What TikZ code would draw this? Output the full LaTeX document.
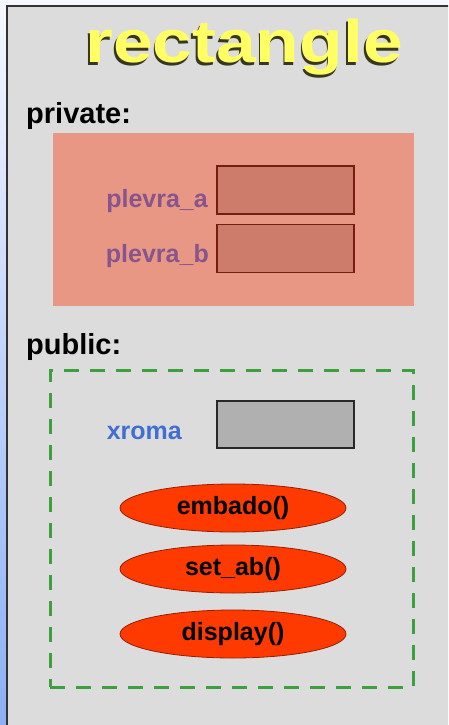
\documentclass[tikz,border=0pt]{standalone}
\usepackage{fontspec}
\setmainfont{Liberation Sans}
\usetikzlibrary{shapes.geometric}

\definecolor{pagebg}{RGB}{246,248,255}
\definecolor{stripblue}{RGB}{140,175,245}
\definecolor{panelbg}{RGB}{220,220,220}
\definecolor{panelline}{RGB}{50,50,50}
\definecolor{titleyellow}{RGB}{255,255,100}
\definecolor{titleshadow}{RGB}{55,55,30}
\definecolor{privfill}{RGB}{232,151,133}
\definecolor{fieldfill}{RGB}{205,123,106}
\definecolor{fieldline}{RGB}{115,30,15}
\definecolor{privtext}{RGB}{135,85,140}
\definecolor{pubtext}{RGB}{65,110,210}
\definecolor{grayfill}{RGB}{176,176,176}
\definecolor{grayline}{RGB}{40,40,40}
\definecolor{dashgreen}{RGB}{60,160,60}
\definecolor{methodfill}{RGB}{255,58,0}
\definecolor{methodline}{RGB}{150,30,0}

% class name: yellow letters over a dark drop shadow
\newcommand{\shadowtitle}[1]{%
  \rlap{\kern-1.5pt\raisebox{-2.5pt}{\color{titleshadow}\scalebox{1.19}[1]{#1}}}%
  \scalebox{1.19}[1]{#1}}

\begin{document}
\begin{tikzpicture}[x=1pt,y=-1pt,
  heading/.style={anchor=base west,inner sep=0pt,font=\fontsize{29}{30}\selectfont\bfseries},
  memberlabel/.style={anchor=base east,inner sep=0pt,font=\fontsize{25}{26}\selectfont\bfseries},
  field/.style={draw=fieldline,fill=fieldfill,line width=1.5pt,minimum width=137pt,minimum height=48pt,inner sep=0pt},
  pubfield/.style={draw=grayline,fill=grayfill,line width=1.5pt,minimum width=137pt,minimum height=47pt,inner sep=0pt},
  method/.style={ellipse,draw=methodline,line width=0.8pt,fill=methodfill,minimum width=226pt,minimum height=48pt,inner sep=0pt,font=\fontsize{25}{26}\selectfont\bfseries}]
\useasboundingbox (0,0) rectangle (448,725);
\clip (0,0) rectangle (448,725);

% page background and blue strip on the left
\fill[pagebg] (0,0) rectangle (448,725);
\shade[top color=pagebg,bottom color=stripblue] (0,0) rectangle (7,725);

% class panel
\draw[panelline,line width=2pt,fill=panelbg] (7,6.5) rectangle (460,740);

% class name
\node[anchor=base,inner sep=0pt,text=titleyellow,font=\fontsize{60}{62}\selectfont\bfseries] (title) at (244,63) {\shadowtitle{rectangle}};

% private section
\node[heading] (privhead) at (26,123) {private:};
\node[fill=privfill,minimum width=361pt,minimum height=173pt,inner sep=0pt] (priv) at (233,219.5) {};
\node[field] (fa) at (285.5,190) {};
\node[field] (fb) at (285.5,248.5) {};
\node[memberlabel,text=privtext] (la) at (208,207) {plevra\_a};
\node[memberlabel,text=privtext] (lb) at (209,262) {plevra\_b};

% public section
\node[heading] (pubhead) at (26,354) {public:};
\node[draw=dashgreen,line width=3pt,dash pattern=on 15pt off 11pt,minimum width=363pt,minimum height=317pt,inner sep=0pt] (pub) at (231.5,528.5) {};
\node[pubfield] (fx) at (285.5,424.5) {};
\node[memberlabel,text=pubtext] (lx) at (182,439) {xroma};

\node[method] (m1) at (233,508) {embado()};
\node[method] (m2) at (233,569) {set\_ab()};
\node[method] (m3) at (233,634) {display()};
\end{tikzpicture}
\end{document}
